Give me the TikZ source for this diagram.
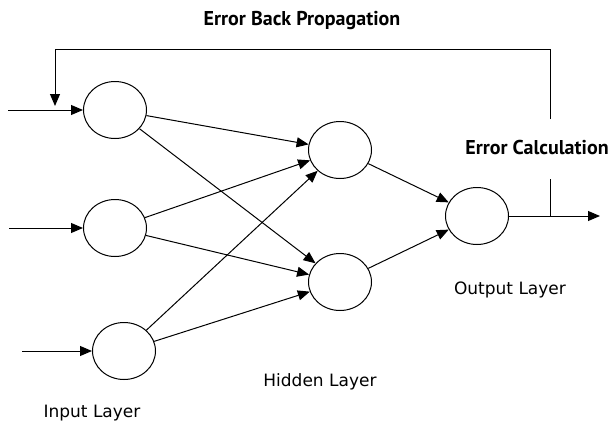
\documentclass[tikz,border=0pt]{standalone}
\usepackage{fontspec}
\setmainfont{DejaVu Sans}
\newfontfamily\boldlabel{PT Sans}
\usetikzlibrary{shapes.geometric, arrows.meta}
\tikzstyle{neuron} = [ellipse, draw, line width=1pt, minimum width=63pt, minimum height=57pt, inner sep=0pt]
\tikzstyle{arrow} = [line width=1pt, -{Triangle[length=12pt, width=10pt]}]
\tikzstyle{line} = [line width=1pt]
\tikzstyle{layer} = [font=\fontsize{17}{20}\selectfont]
\tikzstyle{errtext} = [font=\boldlabel\bfseries\fontsize{20}{24}\selectfont]

\begin{document}
\begin{tikzpicture}[x=1pt, y=-1pt, node distance=118pt]
    \useasboundingbox (0,0) rectangle (613,423);

    \node[neuron] (i1) at (115,110) {};
    \node[neuron] (i2) [below of=i1] {};
    \node[neuron] (i3) [below of=i2, xshift=9pt, yshift=-5pt] {};
    \node[neuron] (h1) [right of=i1, xshift=107pt, yshift=-40pt] {};
    \node[neuron] (h2) [below of=h1, yshift=-14pt] {};
    \node[neuron] (o) [right of=h1, xshift=19pt, yshift=-66pt] {};

    \coordinate (x1) at (8,110);
    \coordinate (x2) at (9,228);
    \coordinate (x3) at (22,351);
    \coordinate (y) at (600,216);
    \coordinate (jn) at (550,216);
    \coordinate (cd) at (550,179);
    \coordinate (cu) at (550,119);
    \coordinate (fl) at (55,49);
    \coordinate (fb) at (55,106);

    \node[errtext] (bp) at (302,21) {Error Back Propagation};
    \node[errtext] (ec) at (537,147) {Error Calculation};
    \node[layer] (il) at (92,413) {Input Layer};
    \node[layer] (hl) at (320,382) {Hidden Layer};
    \node[layer] (ol) at (510,290) {Output Layer};

    \draw[arrow] (x1) -- (i1);
    \draw[arrow] (x2) -- (i2);
    \draw[arrow] (x3) -- (i3);
    \path[arrow]
        (i1) edge (h1) edge (h2)
        (i2) edge (h1) edge (h2)
        (i3) edge (h1) edge (h2)
        (h1) edge (o)
        (h2) edge (o);
    \draw[arrow] (o) -- (y);
    \draw[line] (jn) -- (cd);
    \draw[arrow] (cu) |- (fl) -- (fb);
\end{tikzpicture}
\end{document}
